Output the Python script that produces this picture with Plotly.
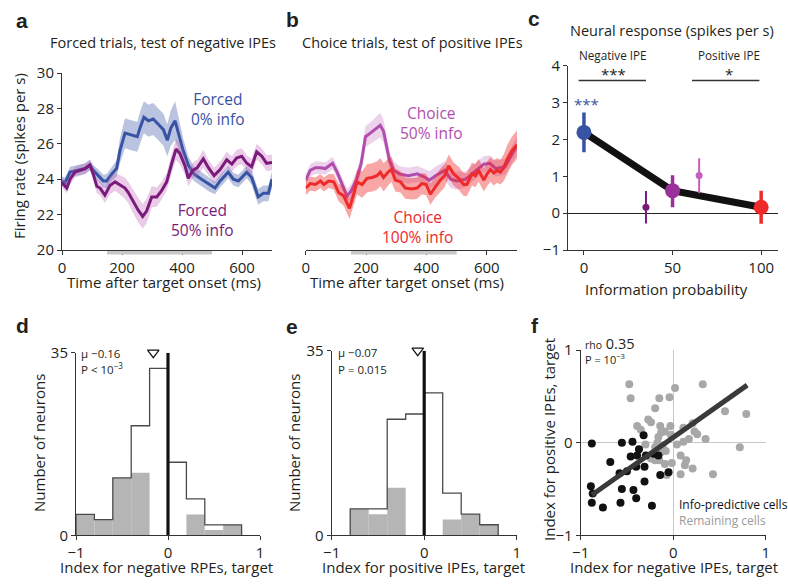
import numpy as np
import plotly.graph_objects as go

W, H = 788, 585
FONT = "Open Sans"
TXT = "#231f20"
AXC = "#333333"

# ---------------- data ----------------
# Panel a: forced trials
a_blue_t = [0, 10, 27, 49, 77, 93, 104, 121, 138, 149, 166, 182, 193, 210, 227, 251, 260, 273, 288, 304,
            321, 338, 351, 363, 377, 388, 404, 421, 440, 465, 490, 510, 527, 538, 554, 571, 588, 599, 616, 632,
            654, 671, 688, 700]
a_blue_v = [23.9, 23.8, 24.4, 24.5, 24.6, 24.8, 24.5, 24.2, 23.9, 23.9, 24.3, 24.6, 25.6, 26.6, 26.5, 26.4, 26.9, 27.5, 27.3, 27.4,
            27.1, 26.8, 26.2, 26.9, 27.3, 26.6, 25.6, 24.8, 24.3, 24.0, 23.7, 23.5, 23.9, 24.1, 24.4, 24.0, 23.9, 24.1, 24.4, 24.1,
            23.0, 23.2, 23.2, 24.0]
a_blue_sem = [0.25, 0.3, 0.3, 0.3, 0.3, 0.3, 0.3, 0.35, 0.35, 0.4, 0.4, 0.45, 0.7, 0.85, 0.85, 0.85, 0.9, 0.9, 0.9, 0.9,
              0.9, 0.9, 0.9, 1.0, 1.1, 0.9, 0.7, 0.5, 0.4, 0.4, 0.4, 0.35, 0.35, 0.35, 0.35, 0.35, 0.35, 0.35, 0.35, 0.4,
              0.45, 0.45, 0.45, 0.45]

a_purple_t = [0, 16, 27, 43, 60, 77, 93, 104, 116, 127, 143, 160, 177, 193, 210, 221, 238, 254, 269, 282,
              299, 316, 332, 349, 366, 380, 393, 410, 421, 436, 451, 471, 488, 507, 527, 549, 566, 582, 599, 616,
              632, 649, 666, 682, 700]
a_purple_v = [23.8, 23.5, 24.0, 24.4, 24.5, 24.6, 24.8, 24.3, 23.6, 23.5, 23.1, 23.65, 23.85, 23.7, 23.5, 23.25, 22.7, 22.25, 21.9, 22.2,
              23.0, 23.0, 23.35, 23.85, 24.9, 25.7, 25.45, 24.75, 24.05, 24.5, 24.65, 25.15, 24.65, 24.2, 24.55, 25.1, 24.85, 25.2, 25.3, 24.9,
              24.7, 25.55, 25.3, 24.9, 24.95]
a_purple_sem = [0.3, 0.3, 0.3, 0.3, 0.3, 0.3, 0.3, 0.35, 0.4, 0.4, 0.45, 0.5, 0.5, 0.55, 0.6, 0.6, 0.65, 0.7, 0.7, 0.7,
                0.6, 0.55, 0.5, 0.5, 0.55, 0.6, 0.6, 0.5, 0.45, 0.45, 0.45, 0.5, 0.45, 0.45, 0.45, 0.45, 0.45, 0.45, 0.45, 0.45,
                0.45, 0.45, 0.45, 0.45, 0.45]

# Panel b: choice trials
b_c50_t = [0, 15, 32, 49, 65, 76, 89, 104, 120, 137, 151, 170, 184, 198, 214, 231, 247, 258, 269, 277,
           291, 310, 340, 370, 390, 410, 430, 460, 480, 500, 530, 560, 590, 610, 630, 660, 690, 700]
b_c50_v = [23.95, 24.5, 24.65, 24.65, 24.6, 24.75, 24.9, 24.4, 23.7, 23.05, 23.35, 24.05, 24.9, 26.4, 26.6, 26.85, 27.05, 26.7, 25.8, 25.1,
           24.5, 24.3, 24.2, 24.3, 24.15, 23.95, 24.2, 24.5, 24.0, 23.9, 24.0, 24.4, 24.85, 24.9, 24.6, 24.7, 25.6, 25.9]
b_c50_sem = [0.3, 0.35, 0.35, 0.35, 0.35, 0.35, 0.35, 0.35, 0.4, 0.4, 0.4, 0.45, 0.5, 0.6, 0.6, 0.65, 0.7, 0.65, 0.55, 0.5,
             0.5, 0.45, 0.45, 0.45, 0.45, 0.5, 0.5, 0.5, 0.5, 0.5, 0.45, 0.45, 0.45, 0.45, 0.45, 0.45, 0.5, 0.5]

b_red_t = [0, 15, 32, 49, 60, 76, 93, 109, 126, 145, 159, 170, 187, 203, 220, 236, 247, 258, 273, 284,
           297, 314, 330, 352, 369, 385, 399, 413, 429, 446, 460, 474, 490, 507, 523, 534, 551, 562, 573, 590,
           601, 612, 623, 634, 645, 656, 667, 683, 700]
b_red_v = [23.5, 23.75, 23.7, 23.9, 23.7, 23.9, 23.85, 23.25, 23.05, 22.35, 23.15, 23.85, 23.7, 24.05, 24.1, 24.2, 24.4, 24.1, 24.4, 24.55,
           23.95, 23.85, 23.5, 23.45, 23.5, 23.75, 23.7, 23.15, 23.55, 23.95, 24.2, 24.75, 24.3, 24.05, 23.7, 23.7, 24.3, 24.2, 24.5, 23.95,
           24.3, 24.55, 24.35, 24.5, 24.4, 24.65, 25.1, 25.6, 25.95]
b_red_sem = [0.4, 0.4, 0.4, 0.4, 0.4, 0.4, 0.45, 0.5, 0.55, 0.6, 0.65, 0.7, 0.75, 0.8, 0.8, 0.8, 0.8, 0.8, 0.75, 0.7,
             0.65, 0.6, 0.6, 0.6, 0.6, 0.6, 0.6, 0.6, 0.6, 0.65, 0.65, 0.65, 0.65, 0.65, 0.65, 0.65, 0.65, 0.65, 0.65, 0.65,
             0.7, 0.7, 0.7, 0.7, 0.7, 0.75, 0.8, 0.8, 0.8]

analysis_window = [150, 500]

# Panel c: neural response
c_x = [0, 35, 50, 65, 100]
c_y = [2.19, 0.16, 0.61, 1.02, 0.16]
c_lo = [1.65, -0.28, 0.16, 0.54, -0.29]
c_hi = [2.73, 0.60, 1.03, 1.49, 0.61]
c_main = [0, 2, 4]          # points joined by the thick black line
sig_y = 3.6
sig_neg = [-3, 35]
sig_pos = [61, 99]

# Panel d / e histograms
d_edges = [-1.0, -0.8, -0.6, -0.4, -0.2, 0.0, 0.2, 0.4, 0.6, 0.8]
d_total = [4, 3, 11, 21, 32, 14, 7, 2, 2]
d_gray = [4, 3, 11, 12, 0, 0, 4, 1, 2]
d_mean = -0.16

e_edges = [-0.8, -0.6, -0.4, -0.2, 0.0, 0.2, 0.4, 0.6, 0.8]
e_total = [5, 5, 22, 23, 27, 8, 4, 2]
e_gray = [5, 4, 9, 0, 0, 3, 4, 2]
e_mean = -0.07
hist_top = 35

# Panel f scatter
f_black_x = [-0.88, -0.555, -0.44, -0.32, -0.37, -0.46, -0.39, -0.295, -0.21, -0.16,
             -0.68, -0.58, -0.50, -0.40, -0.31, -0.14, -0.05, -0.89, -0.87, -0.555,
             -0.43, -0.31, -0.88, -0.76, -0.57, -0.40, -0.23]
f_black_y = [-0.01, 0.0, 0.01, 0.08, -0.07, -0.15, -0.14, -0.14, -0.12, -0.14,
             -0.21, -0.33, -0.31, -0.26, -0.26, -0.35, -0.32, -0.47, -0.55, -0.50,
             -0.51, -0.42, -0.65, -0.70, -0.65, -0.60, -0.68]
f_gray_x = [-0.475, -0.46, -0.15, -0.04, 0.02, 0.32, -0.195, -0.27, -0.24, -0.39,
            -0.35, -0.14, -0.03, -0.13, -0.16, -0.09, 0.11, 0.21, 0.23, 0.26,
            0.35, 0.11, 0.17, 0.04, 0.56, 0.79, 0.72, -0.17, -0.115, -0.195,
            -0.30, -0.08, 0.08, -0.15, -0.09, -0.015, 0.14, 0.21, 0.08, -0.07,
            0.43, -0.13, -0.24, -0.195, 0.126, -0.025]
f_gray_y = [0.63, 0.48, 0.48, 0.49, 0.59, 0.63, 0.37, 0.25, 0.22, 0.18,
            0.14, 0.18, 0.18, 0.11, 0.06, 0.12, 0.16, 0.21, 0.12, 0.09,
            0.04, 0.01, 0.04, -0.02, 0.34, 0.31, -0.05, 0.0, -0.03, -0.05,
            -0.02, -0.09, -0.14, -0.19, -0.23, -0.22, -0.19, -0.28, -0.34, -0.35,
            -0.34, -0.10, -0.17, -0.19, -0.245, 0.086]
fit_slope = 0.706
fit_intercept = 0.056
fit_x = [-0.88, 0.80]

# ---------------- colours ----------------
BLUE = "#3953a4"
PURPLE = "#7a1b7b"
PINK = "#b24db0"
RED = "#ee2a2a"

# ---------------- helpers ----------------
def xd(p0, p1):
    return [p0 / W, p1 / W]

def yd(p0, p1):
    return [1 - p1 / H, 1 - p0 / H]

def fx(p):
    return p / W

def fy(p):
    return 1 - p / H

fig = go.Figure()

def band(t, v, s, color, xa, ya):
    t = list(t); v = np.array(v); s = np.array(s)
    fig.add_trace(go.Scatter(x=t + t[::-1], y=list(v + s) + list((v - s)[::-1]),
                             fill="toself", fillcolor=color, line=dict(width=0),
                             mode="lines", hoverinfo="skip", xaxis=xa, yaxis=ya))

def line(t, v, color, xa, ya, w=3):
    fig.add_trace(go.Scatter(x=t, y=v, mode="lines", line=dict(color=color, width=w),
                             xaxis=xa, yaxis=ya))

# Panel a
band(a_blue_t, a_blue_v, a_blue_sem, "rgba(57,83,164,0.35)", "x", "y")
line(a_blue_t, a_blue_v, BLUE, "x", "y")
band(a_purple_t, a_purple_v, a_purple_sem, "rgba(190,100,185,0.33)", "x", "y")
line(a_purple_t, a_purple_v, PURPLE, "x", "y")

# Panel b
band(b_c50_t, b_c50_v, b_c50_sem, "rgba(178,77,176,0.25)", "x2", "y2")
line(b_c50_t, b_c50_v, PINK, "x2", "y2")
band(b_red_t, b_red_v, b_red_sem, "rgba(238,42,42,0.42)", "x2", "y2")
line(b_red_t, b_red_v, RED, "x2", "y2")

# Panel c
fig.add_trace(go.Scatter(x=[c_x[i] for i in c_main], y=[c_y[i] for i in c_main], mode="lines",
                         line=dict(color="#111111", width=7), xaxis="x3", yaxis="y3"))
c_colors = [BLUE, PURPLE, "#9a3099", "#c25fc0", RED]
c_sizes = [15, 7, 15, 7, 15]
c_ew = [3.5, 2, 3.5, 2, 3.5]
for i in range(len(c_x)):
    fig.add_trace(go.Scatter(x=[c_x[i]], y=[c_y[i]], mode="markers",
                             marker=dict(color=c_colors[i], size=c_sizes[i], line=dict(width=0)),
                             error_y=dict(type="data", symmetric=False,
                                          array=[c_hi[i] - c_y[i]], arrayminus=[c_y[i] - c_lo[i]],
                                          color=c_colors[i], thickness=c_ew[i], width=0),
                             xaxis="x3", yaxis="y3"))
for seg in (sig_neg, sig_pos):
    fig.add_trace(go.Scatter(x=seg, y=[sig_y, sig_y], mode="lines", line=dict(color="#333", width=1.5),
                             xaxis="x3", yaxis="y3", cliponaxis=False))

# Panels d / e
def hist(edges, total, gray, mean, xa, ya):
    edges = list(edges)
    centers = [(edges[i] + edges[i + 1]) / 2 for i in range(len(total))]
    widths = [edges[i + 1] - edges[i] for i in range(len(total))]
    fig.add_trace(go.Bar(x=centers, y=gray, width=widths, marker=dict(color="#b5b5b5", line=dict(width=0)),
                         xaxis=xa, yaxis=ya))
    sx, sy = [edges[0]], [0]
    for i, c in enumerate(total):
        sx += [edges[i], edges[i + 1]]
        sy += [c, c]
    sx.append(edges[-1]); sy.append(0)
    fig.add_trace(go.Scatter(x=sx, y=sy, mode="lines", line=dict(color="#4a4a4a", width=1.3),
                             xaxis=xa, yaxis=ya))
    fig.add_trace(go.Scatter(x=[0, 0], y=[0, hist_top], mode="lines", line=dict(color="#111", width=3.2),
                             xaxis=xa, yaxis=ya, cliponaxis=False))
    fig.add_trace(go.Scatter(x=[mean], y=[hist_top], mode="markers",
                             marker=dict(symbol="triangle-down-open", size=10, color="#111", line=dict(width=1.2)),
                             xaxis=xa, yaxis=ya, cliponaxis=False))

hist(d_edges, d_total, d_gray, d_mean, "x4", "y4")
hist(e_edges, e_total, e_gray, e_mean, "x5", "y5")

# Panel f
fig.add_trace(go.Scatter(x=f_gray_x, y=f_gray_y, mode="markers",
                         marker=dict(color="#a8a8a8", size=8, line=dict(width=0)), xaxis="x6", yaxis="y6"))
fig.add_trace(go.Scatter(x=f_black_x, y=f_black_y, mode="markers",
                         marker=dict(color="#111111", size=8, line=dict(width=0)), xaxis="x6", yaxis="y6"))
fig.add_trace(go.Scatter(x=fit_x, y=[fit_slope * v + fit_intercept for v in fit_x], mode="lines",
                         line=dict(color="#3a3a3a", width=5), xaxis="x6", yaxis="y6"))

# ---------------- axes ----------------
tickfont = dict(family=FONT, size=15, color=TXT)
base = dict(showline=True, linecolor=AXC, linewidth=1, ticks="outside", ticklen=4, tickwidth=1,
            tickcolor=AXC, showgrid=False, zeroline=False, tickfont=tickfont, fixedrange=True,
            automargin=False)

lay = {}
lay["xaxis"] = dict(base, domain=xd(62, 272), range=[0, 700], tickvals=[0, 200, 400, 600], anchor="y")
lay["yaxis"] = dict(base, domain=yd(73, 250), range=[20, 30], tickvals=[20, 22, 24, 26, 28, 30], anchor="x")
lay["xaxis2"] = dict(base, domain=xd(305.7, 517), range=[0, 700], tickvals=[0, 200, 400, 600], anchor="y2")
lay["yaxis2"] = dict(base, domain=yd(73, 250), range=[20, 30], visible=False, anchor="x2")
lay["xaxis3"] = dict(base, domain=xd(568, 778), range=[-9, 109.5], tickvals=[0, 50, 100], anchor="y3")
lay["yaxis3"] = dict(base, domain=yd(65.7, 250), range=[-1, 4], tickvals=[-1, 0, 1, 2, 3, 4], anchor="x3",
                     zeroline=True, zerolinecolor="#222", zerolinewidth=1)
lay["xaxis4"] = dict(base, domain=xd(76, 260), range=[-1, 1], tickvals=[-1, 0, 1], anchor="y4")
lay["yaxis4"] = dict(base, domain=yd(352.7, 535.3), range=[0, 35], tickvals=[0, 35], anchor="x4")
lay["xaxis5"] = dict(base, domain=xd(331.7, 516.7), range=[-1, 1], tickvals=[-1, 0, 1], anchor="y5")
lay["yaxis5"] = dict(base, domain=yd(350.7, 535.3), range=[0, 35], tickvals=[0, 35], anchor="x5")
lay["xaxis6"] = dict(base, domain=xd(580.7, 765.7), range=[-1, 1], tickvals=[-1, 0, 1], anchor="y6",
                     zeroline=True, zerolinecolor="#c8c8c8", zerolinewidth=1)
lay["yaxis6"] = dict(base, domain=yd(350, 535.3), range=[-1, 1], tickvals=[-1, 0, 1], anchor="x6",
                     zeroline=True, zerolinecolor="#c8c8c8", zerolinewidth=1)

# ---------------- annotations ----------------
ann = []

def A(text, x, y, size=13, color=TXT, xanchor="center", yanchor="middle", angle=0, bold=False,
      xref="paper", yref="paper", family=FONT):
    if xref == "paper":
        x = fx(x)
    if yref == "paper":
        y = fy(y)
    ann.append(dict(text=("<b>%s</b>" % text) if bold else text, x=x, y=y, xref=xref, yref=yref,
                    showarrow=False, xanchor=xanchor, yanchor=yanchor, textangle=angle,
                    font=dict(family=family, size=size, color=color)))

for letter, x, y in [("a", 22, 21), ("b", 292.5, 20), ("c", 534, 19), ("d", 22, 325), ("e", 292, 326), ("f", 535, 325)]:
    A(letter, x, y, size=21, bold=True, family="Liberation Sans")

A("Forced trials, test of negative IPEs", 162.5, 43, size=14.5)
A("Choice trials, test of positive IPEs", 412, 43, size=14.5)
A("Neural response (spikes per s)", 672, 30, size=14.5)

XT = 15
A("Time after target onset (ms)", 164, 282, size=XT)
A("Time after target onset (ms)", 407, 282, size=XT)
A("Information probability", 666, 289, size=XT)
A("Firing rate (spikes per s)", 19, 156, size=XT, angle=-90)
A("Index for negative RPEs, target", 166, 567, size=XT)
A("Index for positive IPEs, target", 424, 567, size=XT)
A("Index for negative IPEs, target", 674, 567, size=XT)
A("Number of neurons", 39, 443, size=XT, angle=-90)
A("Number of neurons", 294, 443, size=XT, angle=-90)
A("Index for positive IPEs, target", 549, 440, size=XT, angle=-90)

A("Forced<br>0% info", 520, 27.97, size=15.5, color=BLUE, xref="x", yref="y")
A("Forced<br>50% info", 467, 21.69, size=15.5, color=PURPLE, xref="x", yref="y")
A("Choice<br>50% info", 418, 27.18, size=15.5, color=PINK, xref="x2", yref="y2")
A("Choice<br>100% info", 372, 21.3, size=15.5, color=RED, xref="x2", yref="y2")

A("Negative IPE", 613, 55, size=11.7)
A("Positive IPE", 729, 55, size=11.7)
A("***", 613, 74, size=15)
A("*", 729, 74, size=15)
A("***", 586, 104, size=15, color=BLUE)

A("μ −0.16", 79, 353, size=11.5, xanchor="left")
A("P < 10<sup>−3</sup>", 79, 368, size=11.5, xanchor="left")
A("μ −0.07", 336, 352, size=11.5, xanchor="left")
A("P = 0.015", 336, 369, size=11.5, xanchor="left")
A("<span style='font-size:10.5px'>rho</span> 0.35", 583, 343, size=14.5, xanchor="left")
A("P = 10<sup>−3</sup>", 583, 359, size=11, xanchor="left")
A("Info-predictive cells", 677, 504, size=12, xanchor="left", color="#111")
A("Remaining cells", 677, 520, size=12, xanchor="left", color="#9a9a9a")

shapes = []
for xa in ("x", "x2"):
    shapes.append(dict(type="rect", xref=xa, yref="paper", x0=analysis_window[0], x1=analysis_window[1],
                       y0=fy(254.5), y1=fy(251), fillcolor="#c8c8c8", line=dict(width=0), layer="above"))

fig.update_layout(width=W, height=H, margin=dict(l=0, r=0, t=0, b=0, pad=0, autoexpand=False),
                  paper_bgcolor="white", plot_bgcolor="white", showlegend=False,
                  annotations=ann, shapes=shapes, barmode="overlay",
                  font=dict(family=FONT, color=TXT), **lay)

fig.write_html("out.html",
               post_script="document.body.style.margin='0px';document.documentElement.style.margin='0px';")
